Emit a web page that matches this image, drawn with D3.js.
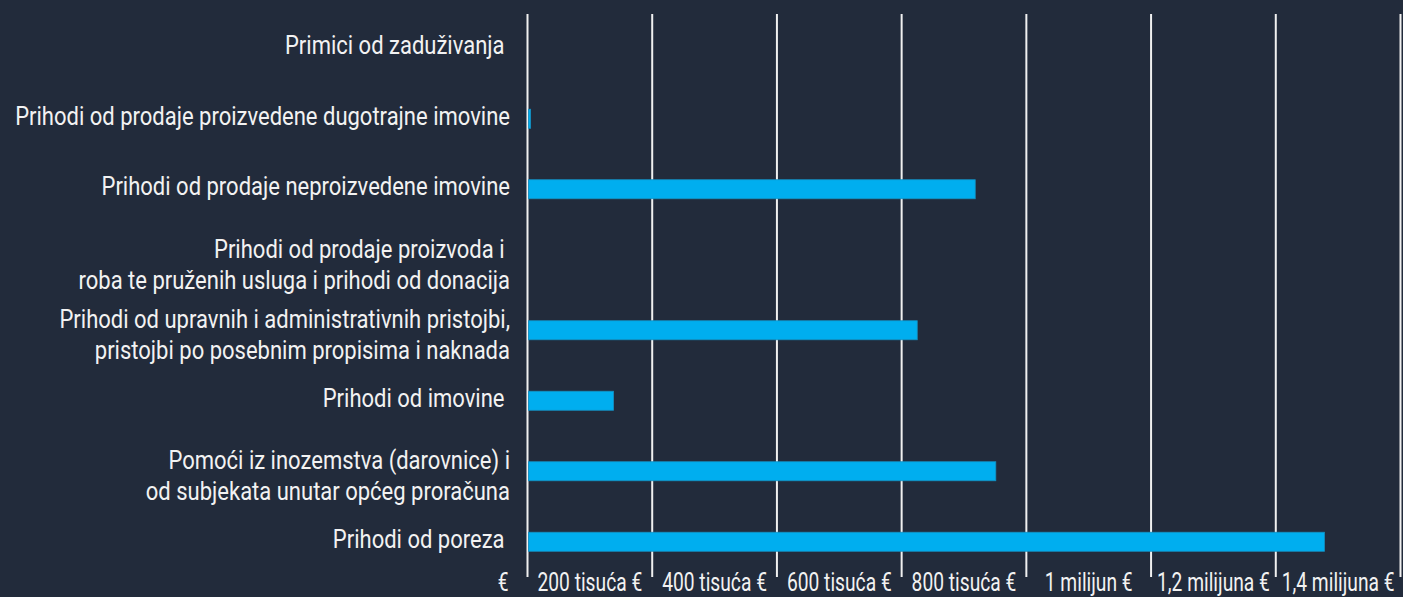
<!DOCTYPE html>
<html>
<head>
<meta charset="utf-8">
<script src="https://cdn.jsdelivr.net/npm/d3@7"></script>
<style>
    html, body { margin: 0; padding: 0; background: #222b3b; }
    svg { display: block; }
    text { font-family: Roboto, "Noto Sans", sans-serif; fill: #f2f2f2; white-space: pre; }
</style>
</head>
<body>
<div id="chart"></div>
<script>
// Categories (top to bottom); '\n' marks a line break
const categories = [
    'Primici od zaduživanja ',
    'Prihodi od prodaje proizvedene dugotrajne imovine',
    'Prihodi od prodaje neproizvedene imovine',
    'Prihodi od prodaje proizvoda i \nroba te pruženih usluga i prihodi od donacija',
    'Prihodi od upravnih i administrativnih pristojbi,\npristojbi po posebnim propisima i naknada',
    'Prihodi od imovine ',
    'Pomoći iz inozemstva (darovnice) i\nod subjekata unutar općeg proračuna',
    'Prihodi od poreza '
];

// Values in euro
const values = [0, 5000, 718000, 0, 625000, 138000, 751000, 1278000];

// Axis ticks and their labels
const tickValues = [0, 200000, 400000, 600000, 800000, 1000000, 1200000, 1400000];
const tickLabels = ['€', '200 tisuća €', '400 tisuća €', '600 tisuća €', '800 tisuća €',
    '1 milijun €', '1,2 milijuna €', '1,4 milijuna €'];

const width = 1403;
const height = 597;
const fontSize = 26;

const svg = d3.select('#chart').append('svg')
    .attr('width', width)
    .attr('height', height);

svg.append('rect')
    .attr('width', width)
    .attr('height', height)
    .attr('fill', '#222b3b');

const x = d3.scaleLinear()
    .domain([0, 1400000])
    .range([527.5, 1400.5]);

const y = d3.scaleBand()
    .domain(categories)
    .range([13, 577])
    .paddingInner(0.73)
    .paddingOuter(0.365);

// Narrow the font to mimic the condensed face of the original
function fitScale(txt, target) {
    const probe = svg.append('text')
        .attr('font-size', fontSize)
        .text(txt);
    const s = target / probe.node().getComputedTextLength();
    probe.remove();
    return s;
}
const sx = fitScale(categories[1], 495);
const sxTick = fitScale(tickLabels[7], 113);

// Grid lines
svg.append('g')
    .selectAll('line')
    .data(tickValues)
    .join('line')
    .attr('x1', d => x(d))
    .attr('x2', d => x(d))
    .attr('y1', 14)
    .attr('y2', 577)
    .attr('stroke', '#f0f0f0')
    .attr('stroke-width', 2);

// Bars
svg.append('g')
    .selectAll('rect')
    .data(categories.map((c, i) => ({ name: c, value: values[i] })).filter(d => d.value > 0))
    .join('rect')
    .attr('x', x(0) + 1)
    .attr('y', d => y(d.name))
    .attr('width', d => Math.max(2, x(d.value) - x(0) - 1))
    .attr('height', y.bandwidth())
    .attr('fill', '#00aeef')
    .attr('stroke', '#1590c2')
    .attr('stroke-width', 0.8);

// Category labels (right aligned)
const labelRight = 510;
const lineHeight = 31;
const labels = svg.append('g')
    .selectAll('g')
    .data(categories)
    .join('g')
    .attr('transform', d => {
        const c = y(d) + y.bandwidth() / 2;
        return `translate(${labelRight},${c}) scale(${sx},1)`;
    });

labels.each(function(d) {
    const lines = d.split('\n');
    const g = d3.select(this);
    const base = lines.length === 1 ? 6 : -2;
    lines.forEach((line, i) => {
        g.append('text')
            .attr('y', base + i * lineHeight)
            .attr('text-anchor', 'end')
            .attr('font-size', fontSize)
            .text(line);
    });
});

// Tick labels: centred in the interval ending at the tick
const step = tickValues[1] - tickValues[0];
svg.append('g')
    .selectAll('text')
    .data(tickValues)
    .join('text')
    .attr('transform', (d, i) => {
        const px = i === 0 ? x(0) - 19 : x(d - step / 2);
        return `translate(${px},591) scale(${sxTick},1)`;
    })
    .attr('text-anchor', (d, i) => i === 0 ? 'end' : 'middle')
    .attr('font-size', fontSize)
    .text((d, i) => tickLabels[i]);
</script>
</body>
</html>
